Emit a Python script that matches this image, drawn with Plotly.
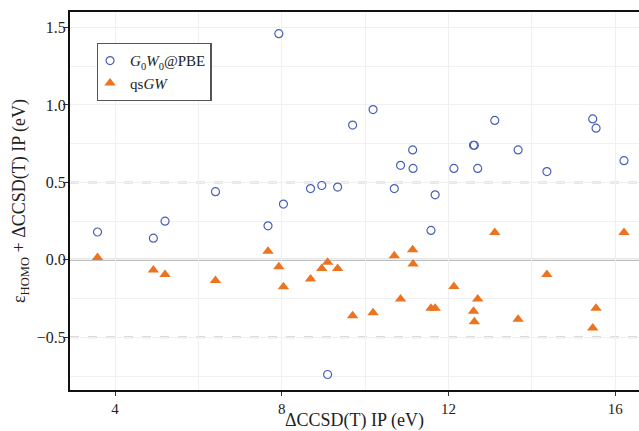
import plotly.graph_objects as go

ip_ccsdt = [3.58, 4.92, 5.20, 6.41, 7.67, 7.93, 8.04, 8.69, 8.96, 9.10, 9.34, 9.70,
            10.19, 10.70, 10.85, 11.14, 11.15, 11.58, 11.68, 12.13, 12.60, 12.62,
            12.70, 13.11, 13.67, 14.36, 15.46, 15.54, 16.21]
g0w0_pbe = [0.18, 0.14, 0.25, 0.44, 0.22, 1.46, 0.36, 0.46, 0.48, -0.74, 0.47, 0.87,
            0.97, 0.46, 0.61, 0.71, 0.59, 0.19, 0.42, 0.59, 0.74, 0.74,
            0.59, 0.90, 0.71, 0.57, 0.91, 0.85, 0.64]
qsgw = [0.015, -0.065, -0.095, -0.133, 0.056, -0.045, -0.174, -0.123, -0.056, -0.015, -0.056, -0.361,
        -0.342, 0.026, -0.252, 0.066, -0.026, -0.312, -0.312, -0.172, -0.331, -0.40,
        -0.252, 0.176, -0.383, -0.095, -0.44, -0.312, 0.176]
x_ticks = [4, 8, 12, 16]
y_ticks = [-0.5, 0.0, 0.5, 1.0, 1.5]

SERIF = "Liberation Serif"

fig = go.Figure()
fig.add_trace(go.Scatter(
    x=ip_ccsdt, y=g0w0_pbe, mode="markers",
    name="<i>G</i><sub>0</sub><i>W</i><sub>0</sub>@PBE",
    marker=dict(symbol="circle-open", size=8, color="#4a60b8", line=dict(width=1.2)),
))
fig.add_trace(go.Scatter(
    x=ip_ccsdt, y=qsgw, mode="markers",
    name="qs<i>GW</i>",
    marker=dict(symbol="triangle-up", size=10, color="#ec7320", line=dict(width=0)),
))

fig.add_hline(y=0, line=dict(color="#a8a8a8", width=2), layer="below")
fig.add_hline(y=0.5, line=dict(color="#cfcfcf", width=2, dash="dash"), layer="below")
fig.add_hline(y=-0.5, line=dict(color="#cfcfcf", width=2, dash="dash"), layer="below")

fig.add_annotation(text="ΔCCSD(T) IP (eV)", xref="paper", yref="paper",
                   x=0.5, y=0, yshift=-30, xanchor="center", yanchor="middle",
                   showarrow=False, font=dict(family=SERIF, size=18, color="#222"))
fig.add_annotation(text="ε<sub>HOMO</sub> + ΔCCSD(T) IP (eV)", xref="paper", yref="paper",
                   x=0, y=0.5, xshift=-50, xanchor="center", yanchor="middle", textangle=-90,
                   showarrow=False, font=dict(family=SERIF, size=18, color="#222"))

fig.update_layout(
    width=639, height=431,
    margin=dict(l=70, r=0, t=12, b=41),
    paper_bgcolor="white", plot_bgcolor="white",
    font=dict(family=SERIF, size=15, color="#222"),
    showlegend=True,
    legend=dict(
        x=0.047, y=0.918, xanchor="left", yanchor="top",
        bgcolor="white", bordercolor="#555", borderwidth=1.3,
        font=dict(family=SERIF, size=15, color="#222"),
        tracegroupgap=0, itemwidth=30, indentation=-8,
    ),
    xaxis=dict(
        range=[2.92, 16.57], automargin=False,
        tickvals=x_ticks, ticks="outside", ticklen=4, tickcolor="#333",
        showgrid=True, gridcolor="#f0f0f0", gridwidth=1,
        minor=dict(dtick=2, tick0=0, showgrid=True, gridcolor="#f0f0f0", ticks=""),
        showline=True, linecolor="#111", linewidth=2, mirror=True,
        zeroline=False,
        tickfont=dict(family=SERIF, size=15),
    ),
    yaxis=dict(
        range=[-0.84, 1.6], automargin=False,
        tickvals=y_ticks, ticks="outside", ticklen=5, tickcolor="#333",
        tickformat=".1f", ticklabelstandoff=-6,
        showgrid=True, gridcolor="#f0f0f0", gridwidth=1,
        minor=dict(dtick=0.25, tick0=0, showgrid=True, gridcolor="#f0f0f0", ticks=""),
        showline=True, linecolor="#111", linewidth=2, mirror=False,
        zeroline=False,
        tickfont=dict(family=SERIF, size=16),
    ),
)

fig.write_html("out.html", config={"displayModeBar": False},
               post_script="document.body.style.margin='0';document.body.style.overflow='hidden';")
